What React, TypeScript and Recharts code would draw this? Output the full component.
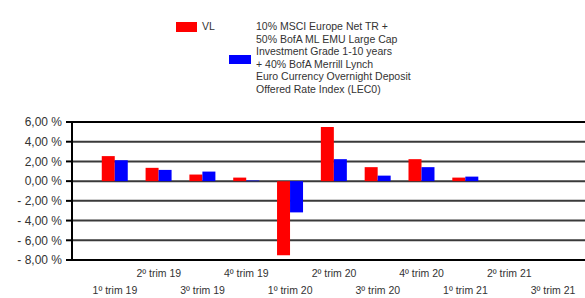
import { BarChart, Bar, XAxis, YAxis, CartesianGrid, ReferenceLine } from "recharts";

const quarters = [
  "1º trim 19",
  "2º trim 19",
  "3º trim 19",
  "4º trim 19",
  "1º trim 20",
  "2º trim 20",
  "3º trim 20",
  "4º trim 20",
  "1º trim 21",
  "2º trim 21",
  "3º trim 21",
];
const vl = [2.54, 1.35, 0.67, 0.36, -7.52, 5.49, 1.42, 2.23, 0.36, null, null];
const benchmark = [2.12, 1.14, 0.97, 0.06, -3.17, 2.23, 0.56, 1.42, 0.46, null, null];
const yTicks = [-8, -6, -4, -2, 0, 2, 4, 6];

const benchLines = [
  "10% MSCI Europe Net TR +",
  "50% BofA ML EMU Large Cap",
  "Investment Grade 1-10 years",
  "+ 40% BofA Merrill Lynch",
  "Euro Currency Overnight Deposit",
  "Offered Rate Index (LEC0)",
];

const data = quarters.map((q, i) => ({ q, vl: vl[i], bm: benchmark[i] }));

const fmt = (v: number) => {
  const s = Math.abs(v).toFixed(2).replace(".", ",") + " %";
  return v < 0 ? "- " + s : s;
};

const QuarterTick = (props: any) => {
  const { x, y, payload, index } = props;
  const lower = index % 2 === 0;
  return (
    <text
      x={x}
      y={y}
      dy={lower ? 26 : 9}
      textAnchor="middle"
      fontSize={10.5}
      fill="#333"
      fontFamily="Liberation Sans, Arial, sans-serif"
    >
      {payload.value}
    </text>
  );
};

export default function App() {
  const font = "Liberation Sans, Arial, sans-serif";
  return (
    <div style={{ position: "absolute", left: 0, top: 0, width: 585, height: 298, fontFamily: font }}>
      <div style={{ position: "absolute", left: 176, top: 22, width: 21, height: 10, background: "#ff0000" }} />
      <div style={{ position: "absolute", left: 202, top: 20, fontSize: 10.5, color: "#333" }}>VL</div>
      <div style={{ position: "absolute", left: 229, top: 55, width: 22, height: 9, background: "#0000ff" }} />
      <div style={{ position: "absolute", left: 256, top: 20, fontSize: 10.5, lineHeight: "12.5px", color: "#333" }}>
        {benchLines.map((l) => (
          <div key={l}>{l}</div>
        ))}
      </div>
      <BarChart
        width={585}
        height={298}
        data={data}
        margin={{ top: 122, right: 0, left: 0, bottom: 8 }}
        barCategoryGap="20%"
        barGap={0}
      >
        <CartesianGrid vertical={false} stroke="#3a3a3a" strokeWidth={2} />
        <XAxis
          dataKey="q"
          axisLine={false}
          tickLine={false}
          interval={0}
          height={30}
          padding={{ left: 21, right: 10 }}
          tick={<QuarterTick />}
        />
        <YAxis
          domain={[-8, 6]}
          ticks={yTicks}
          interval={0}
          width={72}
          tickFormatter={fmt}
          tickSize={6}
          tickMargin={4}
          axisLine={{ stroke: "#000", strokeWidth: 2 }}
          tickLine={{ stroke: "#000", strokeWidth: 2 }}
          tick={{ fontSize: 12, fill: "#333", fontFamily: font }}
        />
        <ReferenceLine y={6} stroke="#000" strokeWidth={2} />
        <ReferenceLine y={-8} stroke="#000" strokeWidth={2} />
        <Bar dataKey="vl" fill="#ff0000" isAnimationActive={false} />
        <Bar dataKey="bm" fill="#0000ff" isAnimationActive={false} />
      </BarChart>
    </div>
  );
}
